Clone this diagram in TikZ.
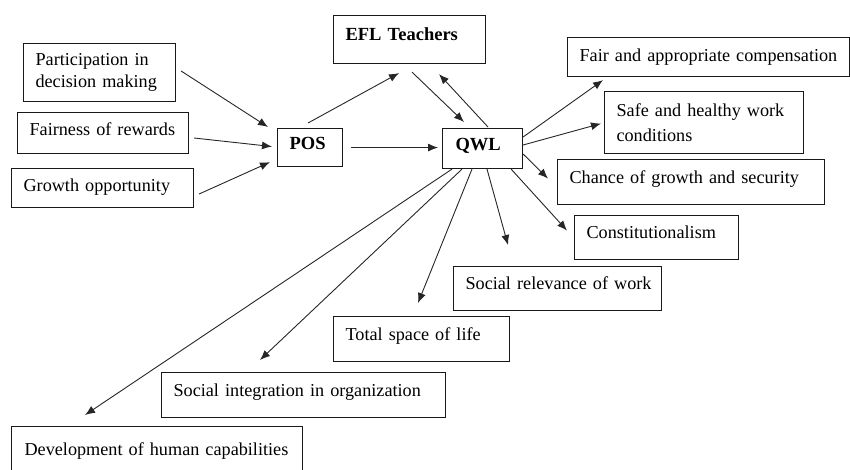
\documentclass[tikz,border=0pt]{standalone}
\usepackage{fontspec}
\setmainfont{Liberation Serif}
\usetikzlibrary{arrows.meta}
\begin{document}
\begin{tikzpicture}[x=1pt,y=-1pt,
  box/.style={draw=black!90, line width=1.1pt, rectangle, anchor=north west,
    inner xsep=12pt, inner ysep=0pt, align=left,
    font=\rmfamily\fontsize{18.2}{22}\selectfont},
  oneline/.style={box, text height=12pt, text depth=10pt},
  heading/.style={oneline, font=\rmfamily\bfseries\fontsize{18.5}{22}\selectfont},
  link/.style={draw=black!85, line width=0.9pt, -{Latex[length=10pt,width=8pt]}}]
\useasboundingbox (0,0) rectangle (850,469);

% influences on perceived organisational support
\node[box, minimum width=152pt, minimum height=58pt, text width=128pt] (part) at (23,43) {Participation in\\decision making};
\node[oneline, minimum width=171pt, minimum height=41pt, text width=147pt, text depth=8pt] (fair) at (17,112) {\mbox{Fairness of rewards}};
\node[oneline, minimum width=182pt, minimum height=39pt, text width=158pt, text depth=6pt] (grow) at (11,168) {\mbox{Growth opportunity}};

% core constructs
\node[heading, minimum width=65pt, minimum height=38pt, text width=41pt, text depth=8pt] (pos) at (277,128) {POS};
\node[heading, minimum width=152pt, minimum height=48pt, text width=128pt] (efl) at (333,15) {\mbox{EFL Teachers}};
\node[heading, minimum width=80pt, minimum height=40pt, text width=54pt, inner xsep=13pt, text depth=8pt] (qwl) at (442,128) {QWL};

% dimensions of quality of work life
\node[oneline, minimum width=282pt, minimum height=39pt, text width=258pt, text depth=4pt] (comp) at (567,37) {\mbox{Fair and appropriate compensation}};
\node[box, minimum width=199pt, minimum height=62pt, text width=175pt, font=\rmfamily\fontsize{18.2}{25}\selectfont] (safe) at (604,91) {Safe and healthy work\\conditions};
\node[oneline, minimum width=267pt, minimum height=45pt, text width=243pt] (chance) at (557,159) {\mbox{Chance of growth and security}};
\node[oneline, minimum width=164pt, minimum height=44pt, text width=140pt] (const) at (574,215) {\mbox{Constitutionalism}};
\node[oneline, minimum width=208pt, minimum height=44pt, text width=184pt] (rel) at (453,266) {\mbox{Social relevance of work}};
\node[oneline, minimum width=176pt, minimum height=45pt, text width=152pt] (life) at (333,316) {\mbox{Total space of life}};
\node[oneline, minimum width=284pt, minimum height=45pt, text width=260pt] (integ) at (161,372) {\mbox{Social integration in organization}};
\node[oneline, minimum width=291pt, minimum height=56pt, text width=265pt, inner xsep=13pt] (dev) at (11,426) {\mbox{Development of human capabilities}};

% inputs to POS
\draw[link] ([xshift=5pt,yshift=-28pt]part.north east) -- ([xshift=-9pt,yshift=1pt]pos.north west);
\draw[link] ([xshift=5pt,yshift=-26pt]fair.north east) -- ([xshift=-5pt,yshift=1pt]pos.west);
\draw[link] ([xshift=5pt,yshift=-26pt]grow.north east) -- ([xshift=-7pt,yshift=5pt]pos.south west);

% POS, teachers and QWL
\draw[link] ([xshift=31pt,yshift=5pt]pos.north west) -- ([xshift=66pt,yshift=-9pt]efl.south west);
\draw[link] ([xshift=79pt,yshift=-8pt]efl.south west) -- ([xshift=22pt,yshift=6pt]qwl.north west);
\draw[link] ([xshift=46pt,yshift=1pt]qwl.north west) -- ([xshift=106pt,yshift=-10pt]efl.south west);
\draw[link] ([xshift=8pt]pos.east) -- ([xshift=-4pt,yshift=1pt]qwl.west);

% QWL to its dimensions
\draw[link] ([yshift=-9pt]qwl.north east) -- ([xshift=36pt,yshift=-3pt]comp.south west);
\draw[link] ([yshift=-17pt]qwl.north east) -- ([xshift=-3pt,yshift=-1pt]safe.west);
\draw[link] ([yshift=-26pt]qwl.north east) -- ([xshift=-9pt,yshift=3.5pt]chance.west);
\draw[link] ([xshift=-12pt]qwl.south east) -- ([xshift=-7pt,yshift=7pt]const.west);
\draw[link] ([xshift=45pt]qwl.south west) -- ([xshift=55pt,yshift=21pt]rel.north west);
\draw[link] ([xshift=30pt]qwl.south west) -- ([xshift=85pt,yshift=13pt]life.north west);
\draw[link] ([xshift=20pt]qwl.south west) -- ([xshift=99pt,yshift=12pt]integ.north west);
\draw[link] ([xshift=10pt]qwl.south west) -- ([xshift=74pt,yshift=11pt]dev.north west);
\end{tikzpicture}
\end{document}
